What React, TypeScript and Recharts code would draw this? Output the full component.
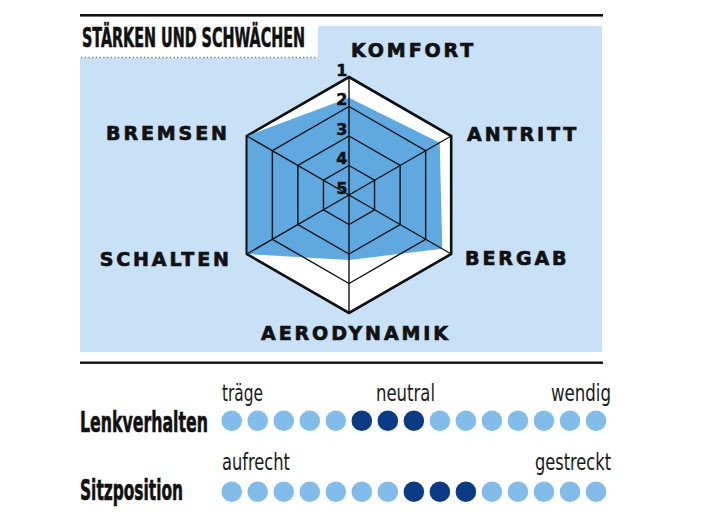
import {
  PolarAngleAxis,
  PolarGrid,
  PolarRadiusAxis,
  Radar,
  RadarChart,
  Scatter,
  ScatterChart,
  XAxis,
  YAxis,
} from "recharts";

// Radar: Bewertung 1 (beste) bis 5
const CRITERIA = ["KOMFORT", "ANTRITT", "BERGAB", "AERODYNAMIK", "SCHALTEN", "BREMSEN"];
const SCORES = [1.7, 1.45, 1.35, 2.8, 1, 1];
const SCALE = [1, 2, 3, 4, 5];
const BEST = 1;
const WORST = 5;

// Punkteskalen unten
const STEPS = [1, 2, 3, 4, 5, 6, 7, 8, 9, 10, 11, 12, 13, 14, 15];
const LENK_ACTIVE = [6, 7, 8];
const SITZ_ACTIVE = [8, 9, 10];

const PANEL = "#c8e1f6";
const FILL = "#5fa8e0";
const LIGHT = "#82bcea";
const DARK = "#0b3b85";
const INK = "#111";

const COND = "'Liberation Sans Narrow', 'DejaVu Sans Condensed', 'DejaVu Sans', sans-serif";
const GEO = "'DejaVu Sans', Lato, sans-serif";

const radarData = CRITERIA.map((name, i) => ({ name, score: SCORES[i], best: BEST }));
const toRadius = (s: number) => WORST - s;

const lenkData = STEPS.map((step) => ({ step, row: 0, active: LENK_ACTIVE.includes(step) }));
const sitzData = STEPS.map((step) => ({ step, row: 1, active: SITZ_ACTIVE.includes(step) }));

const LABEL_POS: Record<string, { anchor: "start" | "middle" | "end"; dx: number; dy: number }> = {
  KOMFORT: { anchor: "start", dx: 2, dy: -19 },
  ANTRITT: { anchor: "start", dx: 9, dy: 2 },
  BERGAB: { anchor: "start", dx: 7, dy: 0 },
  AERODYNAMIK: { anchor: "middle", dx: 7, dy: 12 },
  SCHALTEN: { anchor: "end", dx: -8, dy: 1 },
  BREMSEN: { anchor: "end", dx: -10, dy: 1 },
};

// etwas kräftiger als DejaVu Bold
const heavy = { stroke: INK, strokeWidth: 0.7, paintOrder: "stroke" } as const;

const AngleTick = (props: any) => {
  const { x, y, payload } = props;
  const pos = LABEL_POS[payload.value] ?? { anchor: "middle", dx: 0, dy: 0 };
  return (
    <text
      x={x + pos.dx}
      y={y + pos.dy}
      textAnchor={pos.anchor}
      dominantBaseline="central"
      fontFamily={GEO}
      fontWeight={700}
      fontSize={19}
      letterSpacing={2.9}
      fill={INK}
      {...heavy}
    >
      {payload.value}
    </text>
  );
};

const RadiusTick = (props: any) => {
  const { x, y, payload } = props;
  return (
    <text
      x={x - 1.5}
      y={y - 1.5}
      textAnchor="end"
      fontFamily={GEO}
      fontWeight={700}
      fontSize={16}
      fill={INK}
      {...heavy}
      strokeWidth={0.5}
    >
      {WORST - payload.value}
    </text>
  );
};

const Dot = (props: any) => (
  <circle cx={props.cx} cy={props.cy} r={10.3} fill={props.payload.active ? DARK : LIGHT} />
);

const layer: React.CSSProperties = { position: "absolute", left: 0, top: 0 };

export default function App() {
  const radiusTicks = SCALE.map(toRadius);
  const titleScale = 0.7;
  return (
    <div style={{ position: "absolute", left: 0, top: 0, width: 712, height: 528, background: "#fff" }}>
      <svg width={712} height={528} style={layer}>
        <rect x={80} y={14} width={523} height={2.6} fill={INK} />
        <rect x={80} y={26} width={522} height={326} fill={PANEL} />
        <rect x={80} y={17} width={238} height={41} fill="#fff" />
        <line x1={81} y1={57.5} x2={318} y2={57.5} stroke="#777" strokeWidth={1.3} strokeDasharray="1.3 2.4" />
        <text
          transform={`translate(82,47) scale(${titleScale},1)`}
          fontFamily={COND}
          fontWeight={700}
          fontSize={26}
          textLength={223 / titleScale}
          lengthAdjust="spacingAndGlyphs"
          fill={INK}
          {...heavy}
          strokeWidth={0.6}
        >
          STÄRKEN UND SCHWÄCHEN
        </text>
        <rect x={80} y={361.5} width={523} height={2.4} fill={INK} />

        <text x={80} y={431.5} fontFamily={COND} fontWeight={700} fontSize={29} textLength={128} lengthAdjust="spacingAndGlyphs" fill={INK} {...heavy} strokeWidth={0.6}>
          Lenkverhalten
        </text>
        <text x={80} y={500} fontFamily={COND} fontWeight={700} fontSize={29} textLength={103} lengthAdjust="spacingAndGlyphs" fill={INK} {...heavy} strokeWidth={0.6}>
          Sitzposition
        </text>
        <text x={222} y={401} fontFamily={COND} fontSize={23} textLength={41} lengthAdjust="spacingAndGlyphs" fill="#1a1a1a">
          träge
        </text>
        <text x={376} y={401} fontFamily={COND} fontSize={23} textLength={59} lengthAdjust="spacingAndGlyphs" fill="#1a1a1a">
          neutral
        </text>
        <text x={551} y={401} fontFamily={COND} fontSize={23} textLength={60} lengthAdjust="spacingAndGlyphs" fill="#1a1a1a">
          wendig
        </text>
        <text x={222} y={470} fontFamily={COND} fontSize={23} textLength={68} lengthAdjust="spacingAndGlyphs" fill="#1a1a1a">
          aufrecht
        </text>
        <text x={535} y={470} fontFamily={COND} fontSize={23} textLength={76} lengthAdjust="spacingAndGlyphs" fill="#1a1a1a">
          gestreckt
        </text>
      </svg>

      {/* Flächen: weißer Rahmen und Profil */}
      <div style={layer}>
        <RadarChart
          width={712}
          height={528}
          data={radarData}
          cx={349}
          cy={195}
          outerRadius={118}
          margin={{ top: 0, right: 0, bottom: 0, left: 0 }}
        >
          <PolarAngleAxis dataKey="name" tick={false} axisLine={false} tickLine={false} />
          <PolarRadiusAxis domain={[0, WORST - BEST]} tick={false} axisLine={false} />
          <Radar
            dataKey={(d: any) => toRadius(d.best)}
            fill="#fff"
            fillOpacity={1}
            stroke={INK}
            strokeWidth={2.6}
            isAnimationActive={false}
          />
          <Radar
            dataKey={(d: any) => toRadius(d.score)}
            fill={FILL}
            fillOpacity={1}
            stroke="none"
            isAnimationActive={false}
          />
        </RadarChart>
      </div>

      {/* Raster und Beschriftung */}
      <div style={layer}>
        <RadarChart
          width={712}
          height={528}
          data={radarData}
          cx={349}
          cy={195}
          outerRadius={118}
          margin={{ top: 0, right: 0, bottom: 0, left: 0 }}
        >
          <PolarGrid gridType="polygon" stroke={INK} strokeWidth={1.4} />
          <PolarAngleAxis dataKey="name" tick={<AngleTick />} axisLine={false} tickLine={false} />
          <PolarRadiusAxis
            angle={90}
            domain={[0, WORST - BEST]}
            ticks={radiusTicks as any}
            tickCount={5}
            tick={<RadiusTick />}
            axisLine={false}
          />
          <Radar
            dataKey={(d: any) => toRadius(d.score)}
            fill="none"
            stroke="none"
            isAnimationActive={false}
          />
        </RadarChart>
      </div>

      {/* Punkteskalen */}
      <div style={layer}>
        <ScatterChart
          width={712}
          height={528}
          margin={{ top: 420.7, right: 116, bottom: 36.3, left: 231.7 }}
        >
          <XAxis type="number" dataKey="step" domain={[1, 15]} hide />
          <YAxis type="number" dataKey="row" domain={[0, 1]} reversed hide />
          <Scatter data={lenkData} shape={<Dot />} isAnimationActive={false} />
          <Scatter data={sitzData} shape={<Dot />} isAnimationActive={false} />
        </ScatterChart>
      </div>
    </div>
  );
}
